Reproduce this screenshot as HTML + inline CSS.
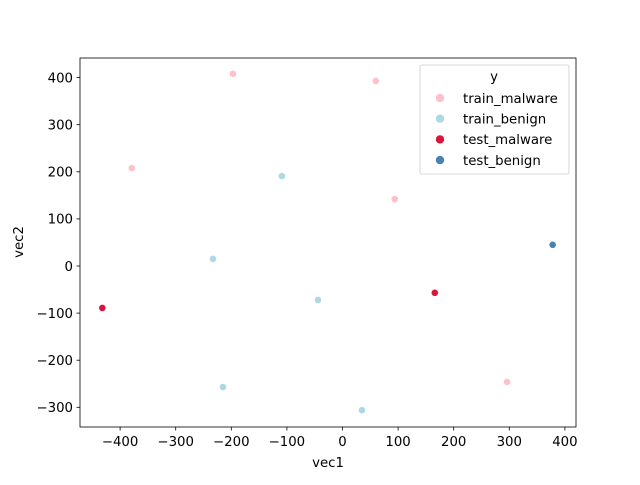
<!DOCTYPE html>
<html><head><meta charset="utf-8"><style>
body{margin:0;background:#fff}
text{font-family:"DejaVu Sans","Liberation Sans",sans-serif;font-size:13.3px;fill:#000}
</style></head><body>
<svg id="chart" width="640" height="480" xmlns="http://www.w3.org/2000/svg">
<rect x="0" y="0" width="640" height="480" fill="#fff"/>
<g id="marks"></g>
<rect x="80" y="58" width="496" height="369" fill="none" stroke="#000" stroke-width="0.8"/>
<g id="xticks"></g><g id="yticks"></g>
<text x="328" y="467" text-anchor="middle">vec1</text>
<text x="23" y="242" text-anchor="middle" transform="rotate(-90 23 242)">vec2</text>
<g>
<rect x="420" y="65" width="149" height="109" rx="2" fill="#fff" fill-opacity="0.8" stroke="#ccc" stroke-width="0.8"/>
<text x="494" y="81" text-anchor="middle">y</text>
<g id="legend-items"></g>
</g>
</svg>
<script>
const categories=["train_malware","train_benign","test_malware","test_benign"];
const colors=["#ffc0cb","#add8e6","#dc143c","#4682b4"];
const seriesX=[[-197,60,-379,94,296],[-109,-233,-44,-215,35],[-432,166],[378]];
const seriesY=[[408,393,208,142,-246],[191,15,-72,-257,-306],[-89,-57],[45]];
const xTicks=[-400,-300,-200,-100,0,100,200,300,400];
const yTicks=[-300,-200,-100,0,100,200,300,400];
const xs=v=>342.5+v*0.556;
const ys=v=>266-v*0.471;
const NS="http://www.w3.org/2000/svg";
const marks=document.getElementById('marks');
seriesX.forEach((arr,i)=>arr.forEach((x,j)=>{
 const c=document.createElementNS(NS,'circle');
 c.setAttribute('cx',xs(x));c.setAttribute('cy',ys(seriesY[i][j]));c.setAttribute('r',3.6);
 c.setAttribute('fill',colors[i]);c.setAttribute('stroke','#fff');c.setAttribute('stroke-width',0.6);
 
 
 marks.appendChild(c);
}));
const xt=document.getElementById('xticks');
xTicks.forEach(t=>{
 const l=document.createElementNS(NS,'line');
 l.setAttribute('x1',xs(t));l.setAttribute('x2',xs(t));l.setAttribute('y1',427);l.setAttribute('y2',430.5);l.setAttribute('stroke','#000');l.setAttribute('stroke-width',0.8);
 xt.appendChild(l);
 const s=document.createElementNS(NS,'text');
 s.setAttribute('x',xs(t));s.setAttribute('y',446);s.setAttribute('text-anchor','middle');
 s.textContent=t<0?'\u2212'+(-t):t;
 
 
 xt.appendChild(s);
});
const yt=document.getElementById('yticks');
yTicks.forEach(t=>{
 const l=document.createElementNS(NS,'line');
 l.setAttribute('x1',76.5);l.setAttribute('x2',80);l.setAttribute('y1',ys(t));l.setAttribute('y2',ys(t));l.setAttribute('stroke','#000');l.setAttribute('stroke-width',0.8);
 yt.appendChild(l);
 const s=document.createElementNS(NS,'text');
 s.setAttribute('x',73);s.setAttribute('y',ys(t)+4.8);s.setAttribute('text-anchor','end');
 s.textContent=t<0?'\u2212'+(-t):t;
 
 
 yt.appendChild(s);
});
const li=document.getElementById('legend-items');
categories.forEach((c,i)=>{
 const y=98+i*20.7;
 const m=document.createElementNS(NS,'circle');
 m.setAttribute('cx',440);m.setAttribute('cy',y);m.setAttribute('r',4.5);m.setAttribute('fill',colors[i]);m.setAttribute('stroke','#fff');m.setAttribute('stroke-width',0.6);
 
 
 li.appendChild(m);
 const s=document.createElementNS(NS,'text');
 s.setAttribute('x',463);s.setAttribute('y',y+4.8);s.textContent=c;
 
 
 li.appendChild(s);
});
</script>
</body></html>
